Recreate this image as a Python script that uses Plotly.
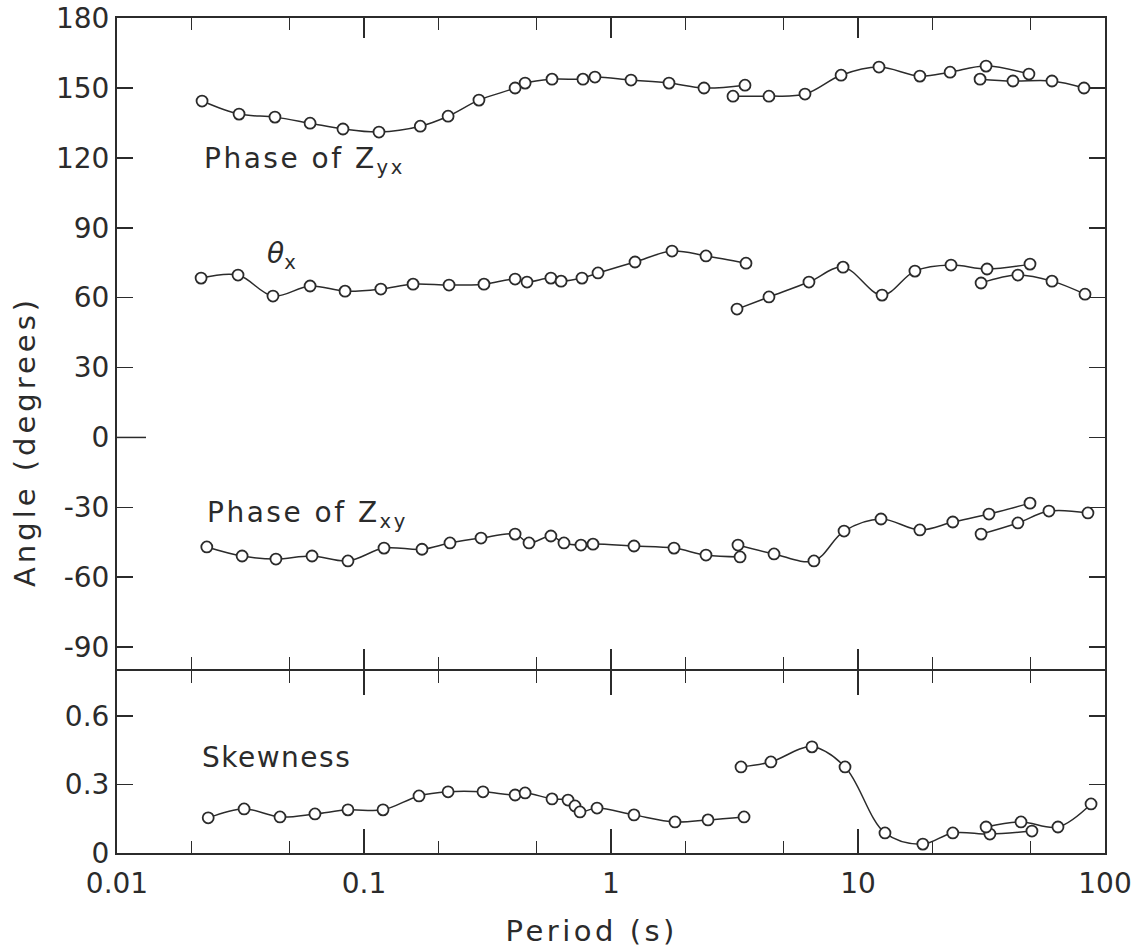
import plotly.graph_objects as go
from plotly.subplots import make_subplots

# ---------------- data ----------------
# Phase of Zyx (degrees)
zyx1_T = [0.0221, 0.0312, 0.0436, 0.0605, 0.0822, 0.115, 0.169, 0.219, 0.292, 0.409, 0.449,
          0.577, 0.770, 0.861, 1.205, 1.717, 2.379, 3.487]
zyx1_v = [144.4, 138.8, 137.5, 134.9, 132.4, 131.1, 133.6, 137.9, 144.8, 150.0, 152.1,
          153.8, 153.8, 154.7, 153.4, 152.1, 150.0, 151.2]
zyx2_T = [3.118, 4.36, 6.10, 8.54, 12.16, 17.8, 23.6, 33.0, 49.2]
zyx2_v = [146.5, 146.5, 147.4, 155.5, 159.0, 155.1, 156.8, 159.4, 156.0]
zyx3_T = [31.2, 42.4, 61.0, 82.2]
zyx3_v = [153.8, 153.0, 153.0, 150.0]

# theta_x (degrees)
th1_T = [0.0219, 0.0309, 0.0428, 0.0605, 0.0838, 0.117, 0.158, 0.221, 0.306, 0.409, 0.457,
         0.571, 0.628, 0.763, 0.886, 1.251, 1.766, 2.424, 3.52]
th1_v = [68.4, 69.7, 60.7, 65.0, 62.8, 63.7, 65.8, 65.4, 65.8, 68.0, 66.7,
         68.4, 67.1, 68.4, 70.6, 75.3, 80.0, 77.9, 74.8]
th2_T = [3.237, 4.36, 6.33, 8.70, 12.51, 17.0, 23.8, 33.3, 49.7]
th2_v = [55.1, 60.3, 66.7, 73.1, 61.1, 71.4, 74.0, 72.3, 74.4]
th3_T = [31.5, 44.4, 61.0, 83.0]
th3_v = [66.3, 69.7, 67.1, 61.5]

# Phase of Zxy (degrees)
zxy1_T = [0.0231, 0.0321, 0.0440, 0.0616, 0.0861, 0.1205, 0.1717, 0.2229, 0.2977, 0.409,
          0.4656, 0.571, 0.645, 0.7557, 0.8455, 1.239, 1.799, 2.424, 3.33]
zxy1_v = [-47.0, -50.9, -52.2, -50.9, -53.0, -47.5, -48.0, -45.3, -43.2, -41.5,
          -45.3, -42.3, -45.3, -46.2, -45.8, -46.6, -47.5, -50.5, -51.3]
zxy2_T = [3.267, 4.57, 6.63, 8.78, 12.39, 17.8, 24.2, 33.9, 49.7]
zxy2_v = [-46.2, -50.0, -53.0, -40.2, -35.0, -39.7, -36.3, -32.9, -28.2]
zxy3_T = [31.5, 44.4, 59.3, 85.3]
zxy3_v = [-41.5, -36.7, -31.6, -32.4]

# Skewness
sk1_T = [0.0234, 0.0327, 0.0457, 0.0633, 0.0861, 0.1194, 0.167, 0.219, 0.3032, 0.409,
         0.449, 0.577, 0.670, 0.715, 0.749, 0.878, 1.239, 1.816, 2.47, 3.456]
sk1_v = [0.154, 0.193, 0.158, 0.171, 0.189, 0.189, 0.250, 0.268, 0.268, 0.254,
         0.263, 0.237, 0.232, 0.206, 0.180, 0.197, 0.167, 0.136, 0.145, 0.158]
sk2_T = [3.36, 4.44, 6.51, 8.86, 12.86, 18.3, 24.2, 34.2, 50.6]
sk2_v = [0.377, 0.399, 0.465, 0.377, 0.088, 0.039, 0.088, 0.083, 0.096]
sk3_T = [33.0, 45.7, 64.5, 87.8]
sk3_v = [0.114, 0.136, 0.114, 0.215]

# axes
x_major = [0.01, 0.1, 1, 10, 100]
x_major_text = ["0.01", "0.1", "1", "10", "100"]
x_minor = [0.02, 0.05, 0.2, 0.5, 2, 5, 20, 50]
ang_ticks = [180, 150, 120, 90, 60, 30, 0, -30, -60, -90]
ang_text = ["180", "150", "120", "90", "60", "30", "0", "-30", "-60", "-90"]
sk_ticks = [0, 0.3, 0.6]
sk_text = ["0", "0.3", "0.6"]

# ---------------- figure ----------------
INK = "#2b2b2b"
FONT = "DejaVu Sans"
W, H = 1147, 951
X0, X1, Y0, Y1 = 117, 1105, 18, 853   # plot-area edges in page pixels
ML, MR, MT, MB = X0, W - X1, Y0, H - Y1
plot_w, plot_h = X1 - X0, Y1 - Y0
sep = 669
top_dom = (Y1 - sep) / plot_h
bot_dom = (Y1 - sep - 2) / plot_h
sk_top = 0.806 * (Y1 - sep - 2) / (Y1 - sep)

fig = make_subplots(rows=2, cols=1, shared_xaxes=True, vertical_spacing=0)

def add(T, v, row):
    fig.add_trace(go.Scatter(
        x=T, y=v, mode="lines+markers",
        line=dict(color=INK, width=1.5, shape="spline", smoothing=1.0),
        marker=dict(symbol="circle", size=11, color="white",
                    line=dict(color=INK, width=1.8)),
        showlegend=False, hoverinfo="skip"), row=row, col=1)

for T, v in [(zyx1_T, zyx1_v), (zyx2_T, zyx2_v), (zyx3_T, zyx3_v),
             (th1_T, th1_v), (th2_T, th2_v), (th3_T, th3_v),
             (zxy1_T, zxy1_v), (zxy2_T, zxy2_v), (zxy3_T, zxy3_v)]:
    add(T, v, 1)
for T, v in [(sk1_T, sk1_v), (sk2_T, sk2_v), (sk3_T, sk3_v)]:
    add(T, v, 2)

tickfont = dict(family=FONT, size=28, color=INK)

xcommon = dict(type="log", range=[-2, 2], showline=True, linecolor=INK, linewidth=2,
               mirror="ticks", ticks="inside", tickcolor=INK, tickwidth=1.5,
               tickmode="array", tickvals=x_major, ticktext=x_major_text,
               showgrid=False, zeroline=False, tickfont=tickfont, automargin=False)
fig.update_xaxes(**xcommon)
fig.update_xaxes(row=1, col=1, ticklen=20, showticklabels=False,
                 minor=dict(tickmode="array", tickvals=x_minor, ticks="inside",
                            ticklen=12, tickcolor=INK, tickwidth=1.5, showgrid=False))
fig.update_xaxes(row=2, col=1, ticklen=24, showticklabels=True, ticklabelstandoff=4,
                 minor=dict(tickmode="array", tickvals=x_minor, ticks="inside",
                            ticklen=12, tickcolor=INK, tickwidth=1.5, showgrid=False))

ycommon = dict(showline=True, linecolor=INK, linewidth=2, mirror="ticks",
               ticks="inside", ticklen=16, tickcolor=INK, tickwidth=1.5,
               showgrid=False, zeroline=False, tickfont=tickfont, tickmode="array",
               automargin=False)
fig.update_yaxes(**ycommon)
fig.update_yaxes(row=1, col=1, range=[-99.4, 180.05], tickvals=ang_ticks, ticktext=ang_text,
                 domain=[top_dom, 1])
fig.update_yaxes(row=2, col=1, range=[0, sk_top], tickvals=sk_ticks, ticktext=sk_text,
                 domain=[0, bot_dom])

# longer tick at 0 degrees (left side)
fig.add_shape(type="line", xref="x domain", yref="y", x0=0, x1=29 / plot_w, y0=0, y1=0,
              line=dict(color=INK, width=1.5))

lab = dict(family=FONT, size=28, color=INK)
fig.add_annotation(xref="x", yref="y", x=-1.656, y=119, text="Phase of Z<sub>yx</sub>",
                   showarrow=False, xanchor="left", yanchor="middle", align="left", font=lab)
fig.add_annotation(xref="x", yref="y", x=-1.40, y=78, text="<i>θ</i><sub>x</sub>",
                   showarrow=False, xanchor="left", yanchor="middle", align="left", font=lab)
fig.add_annotation(xref="x", yref="y", x=-1.644, y=-33, text="Phase of Z<sub>xy</sub>",
                   showarrow=False, xanchor="left", yanchor="middle", align="left", font=lab)
fig.add_annotation(xref="x2", yref="y2", x=-1.664, y=0.42,
                   text="Skewness", showarrow=False, xanchor="left", yanchor="middle",
                   align="left", font=lab)

title_font = dict(family=FONT, size=29, color=INK)
fig.add_annotation(xref="paper", yref="paper", x=(591 - X0) / plot_w, y=(Y1 - 931) / plot_h,
                   text="Period (s)", showarrow=False, xanchor="center", yanchor="middle",
                   font=title_font)
fig.add_annotation(xref="paper", yref="paper", x=(25 - X0) / plot_w, y=(Y1 - 442) / plot_h,
                   text="Angle (degrees)", textangle=-90, showarrow=False,
                   xanchor="center", yanchor="middle", font=title_font)

fig.update_layout(template="none", width=W, height=H, autosize=False,
                  margin=dict(l=ML, r=MR, t=MT, b=MB, autoexpand=False),
                  paper_bgcolor="white", plot_bgcolor="white",
                  font=dict(family=FONT, color=INK))

# remove the default page margin and widen the lettering like the original
page_js = """
document.body.style.margin = '0';
var gd = document.getElementById('{plot_id}');
var sp = {'Period (s)': '3.5px', 'Angle (degrees)': '4px', 'Skewness': '1.5px'};
gd.querySelectorAll('.annotation-text').forEach(function(t){
  var s = t.textContent;
  if (sp[s] !== undefined) { t.style.letterSpacing = sp[s]; }
  else if (s.indexOf('Phase') === 0) { t.style.letterSpacing = '2.5px'; }
});
"""

fig.write_html("out.html", post_script=page_js,
               config={"displayModeBar": False, "staticPlot": True})
